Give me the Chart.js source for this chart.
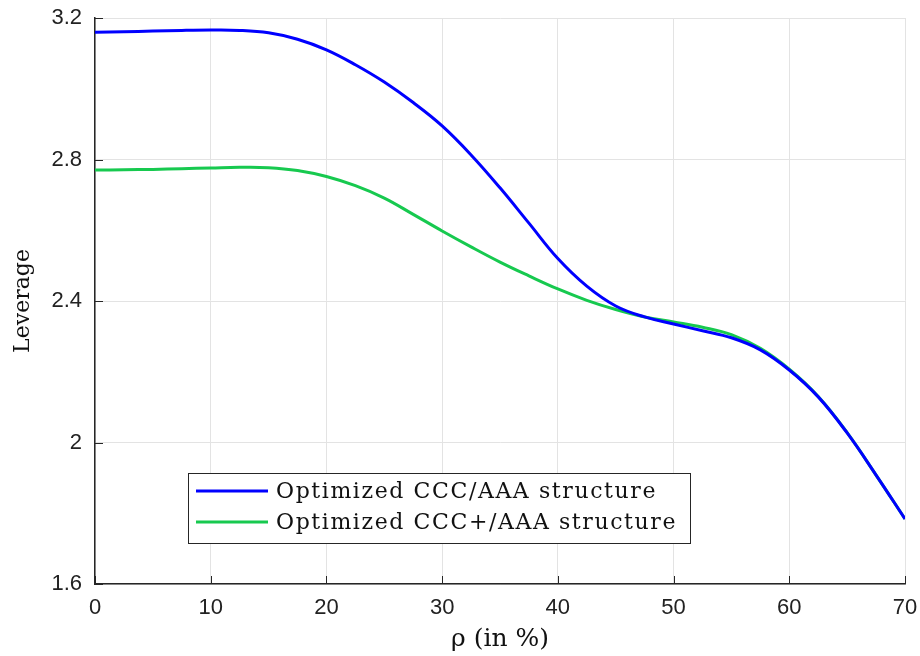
<!DOCTYPE html>
<html>
<head>
<meta charset="utf-8">
<script src="https://cdn.jsdelivr.net/npm/chart.js@4"></script>
<style>
  html, body { margin: 0; padding: 0; background: #fff; }
  #wrap { width: 920px; height: 656px; }
</style>
</head>
<body>
<div id="wrap"><canvas id="levChart" width="920" height="656"></canvas></div>
<script>
// rho (in %)
const rho = [0, 2.5, 5, 7.5, 10, 12.5, 15, 17.5, 20, 22.5, 25, 27.5, 30, 32.5, 35, 37.5, 40,
             42.5, 45, 47.5, 50, 52.5, 55, 57.5, 60, 62.5, 65, 67.5, 70];
const cccAAA = [3.160, 3.161, 3.163, 3.165, 3.166, 3.165, 3.158, 3.140, 3.110, 3.068, 3.019, 2.961, 2.895,
                2.813, 2.720, 2.620, 2.520, 2.442, 2.386, 2.355, 2.335, 2.316, 2.296, 2.262, 2.205,
                2.129, 2.027, 1.908, 1.784];
const cccPlusAAA = [2.770, 2.771, 2.772, 2.774, 2.776, 2.778, 2.777, 2.769, 2.752, 2.726, 2.691, 2.645, 2.598,
                    2.553, 2.510, 2.471, 2.434, 2.402, 2.376, 2.355, 2.341, 2.326, 2.305, 2.266, 2.207,
                    2.130, 2.028, 1.908, 1.784];
const xTicks = [0, 10, 20, 30, 40, 50, 60, 70];
const yTicks = [1.6, 2, 2.4, 2.8, 3.2];

const seriesNames = ['Optimized CCC/AAA structure', 'Optimized CCC+/AAA structure'];
const seriesColors = ['#0000ff', '#17c94f'];

// inner tick marks + legend box drawn inside the plot
const matlabLook = {
    id: 'matlabLook',
    afterDraw(chart) {
        const ctx = chart.ctx;
        const area = chart.chartArea;
        const xs = chart.scales.x, ys = chart.scales.y;
        ctx.save();
        ctx.strokeStyle = '#262626';
        ctx.lineWidth = 1;
        xTicks.forEach(t => {
            const px = Math.round(xs.getPixelForValue(t)) + 0.5;
            ctx.beginPath();
            ctx.moveTo(px, area.bottom);
            ctx.lineTo(px, area.bottom - 8);
            ctx.stroke();
        });
        yTicks.forEach(t => {
            const py = Math.round(ys.getPixelForValue(t)) + 0.5;
            ctx.beginPath();
            ctx.moveTo(area.left, py);
            ctx.lineTo(area.left + 8, py);
            ctx.stroke();
        });

        // legend
        const bx = 188, by = 473, bw = 502, bh = 70;
        ctx.fillStyle = '#fff';
        ctx.fillRect(bx, by, bw, bh);
        ctx.strokeStyle = '#262626';
        ctx.strokeRect(bx + 0.5, by + 0.5, bw, bh);
        ctx.font = '22px "DejaVu Serif", "Liberation Serif", serif';
        ctx.letterSpacing = '1.6px';
        ctx.textBaseline = 'middle';
        chart.data.datasets.forEach((ds, i) => {
            const ly = by + 18 + i * 31;
            ctx.strokeStyle = ds.borderColor;
            ctx.lineWidth = 3;
            ctx.beginPath();
            ctx.moveTo(bx + 8, ly);
            ctx.lineTo(bx + 80, ly);
            ctx.stroke();
            ctx.fillStyle = '#111';
            ctx.fillText(ds.label, bx + 88, ly + 1);
        });
        ctx.restore();
    }
};

const ctx = document.getElementById('levChart').getContext('2d');
new Chart(ctx, {
    type: 'line',
    data: {
        datasets: [
            {
                label: seriesNames[0],
                data: rho.map((r, i) => ({ x: r, y: cccAAA[i] })),
                borderColor: seriesColors[0],
                backgroundColor: seriesColors[0],
                borderWidth: 3,
                pointRadius: 0,
                tension: 0.4,
                fill: false
            },
            {
                label: seriesNames[1],
                data: rho.map((r, i) => ({ x: r, y: cccPlusAAA[i] })),
                borderColor: seriesColors[1],
                backgroundColor: seriesColors[1],
                borderWidth: 3,
                pointRadius: 0,
                tension: 0.4,
                fill: false
            }
        ]
    },
    options: {
        responsive: false,
        animation: false,
        layout: { padding: { top: 18, right: 15, left: 0, bottom: 0 } },
        plugins: {
            legend: { display: false },
            tooltip: { enabled: false }
        },
        scales: {
            x: {
                type: 'linear',
                min: 0,
                max: 70,
                afterBuildTicks: scale => { scale.ticks = xTicks.map(v => ({ value: v })); },
                afterFit: scale => {
                    scale.height = 72;
                    scale.paddingLeft = 0;
                    scale.paddingRight = 0;
                },
                grid: { color: '#e3e3e3', lineWidth: 1, drawTicks: false },
                border: { color: '#262626', width: 1.5 },
                ticks: {
                    padding: 11,
                    color: '#222',
                    font: { family: '"Liberation Sans", Arial, sans-serif', size: 22 }
                },
                title: {
                    display: true,
                    text: 'ρ (in %)',
                    color: '#111',
                    padding: { top: 0, bottom: 2 },
                    font: { family: '"DejaVu Serif", "Liberation Serif", serif', size: 25 }
                }
            },
            y: {
                min: 1.6,
                max: 3.2,
                afterBuildTicks: scale => { scale.ticks = yTicks.map(v => ({ value: v })); },
                afterFit: scale => {
                    scale.width = 95;
                    scale.paddingTop = 0;
                    scale.paddingBottom = 0;
                },
                grid: { color: '#e3e3e3', lineWidth: 1, drawTicks: false },
                border: { color: '#262626', width: 1.5 },
                ticks: {
                    padding: 13,
                    color: '#222',
                    font: { family: '"Liberation Sans", Arial, sans-serif', size: 22 },
                    callback: v => String(v)
                },
                title: {
                    display: true,
                    text: 'Leverage',
                    color: '#111',
                    padding: { top: 10, bottom: 0 },
                    font: { family: '"DejaVu Serif", "Liberation Serif", serif', size: 22 }
                }
            }
        }
    },
    plugins: [matlabLook]
});
</script>
</body>
</html>
